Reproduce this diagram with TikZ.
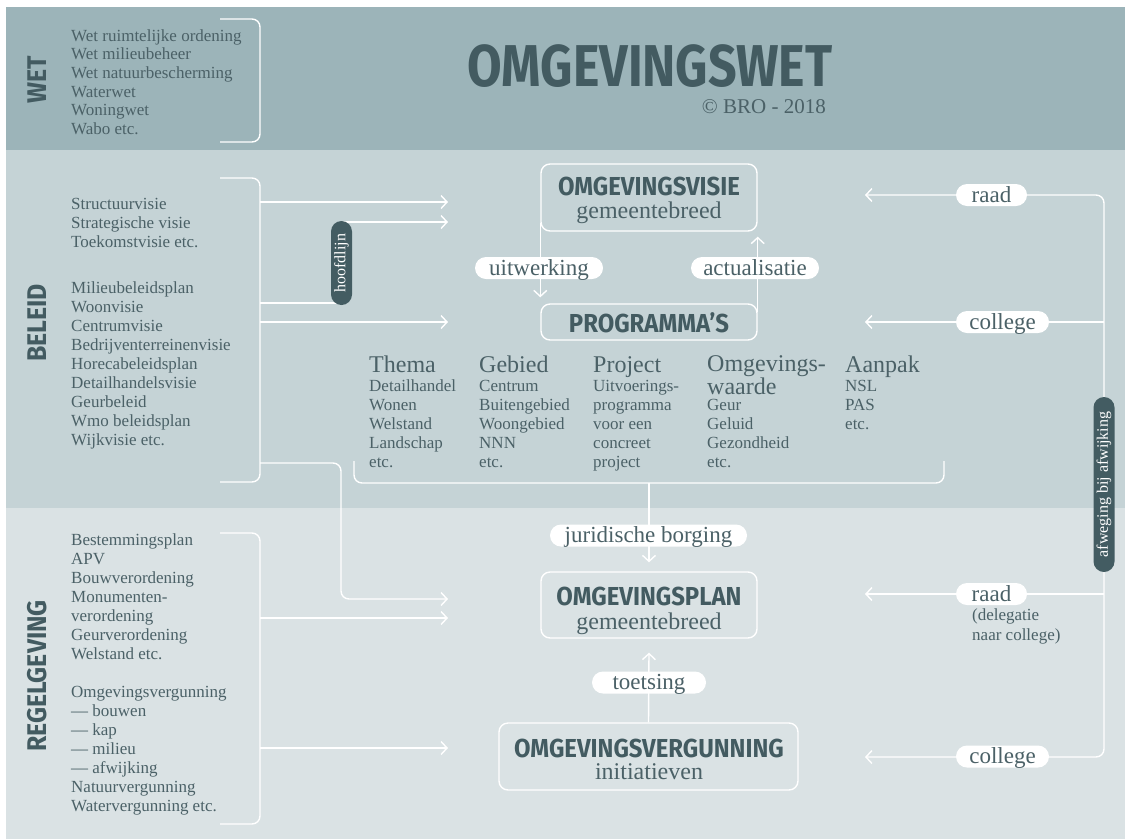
\documentclass[tikz,border=0pt]{standalone}
\usepackage{fontspec}
\setmainfont{Liberation Serif}
\newfontfamily\dinfont[FakeStretch=0.85]{Fira Sans}
\newfontfamily\dinbox[FakeStretch=0.92]{Fira Sans}
\usetikzlibrary{arrows.meta}
\definecolor{wetbg}{HTML}{9CB4B9}
\definecolor{beleidbg}{HTML}{C5D3D6}
\definecolor{regelbg}{HTML}{DAE2E4}
\definecolor{textc}{HTML}{4B6167}
\definecolor{headc}{HTML}{435B61}
\definecolor{darkc}{HTML}{435C62}
\pgfdeclarelayer{bg}
\pgfdeclarelayer{edges}
\pgfsetlayers{bg,edges,main}
\tikzset{
  conn/.style={draw=white, line width=1.4pt},
  arr/.style={conn, -{Straight Barb[length=6pt,width=13pt,line width=1.4pt]}},
  box/.style={draw=white, line width=1.4pt, rounded corners=9pt, inner sep=0pt},
  ttl/.style={font=\dinbox\bfseries\fontsize{26}{28}\selectfont, text=headc, inner sep=0pt},
  sub/.style={font=\fontsize{24}{26}\selectfont, text=textc, inner sep=0pt, anchor=base},
  lst/.style={font=\fontsize{17}{19}\selectfont, text=textc, inner sep=0pt, align=left, anchor=north west},
  pill/.style={fill=white, rounded corners=11pt, minimum height=22pt, inner xsep=0pt, inner ysep=0pt, text height=16pt, text depth=2pt, text=textc, font=\fontsize{23}{25}\selectfont},
  dpill/.style={fill=darkc, rounded corners=10.5pt, minimum height=21pt, inner xsep=0pt, inner ysep=0pt, text=white, rotate=90, font=\fontsize{16}{18}\selectfont},
  side/.style={font=\dinbox\bfseries\fontsize{27}{30}\selectfont, text=headc, rotate=90, inner sep=0pt},
  head/.style={font=\fontsize{24}{26}\selectfont, text=textc, inner sep=0pt, anchor=base west},
}
\begin{document}
\begin{tikzpicture}[x=1pt,y=-1pt]
\useasboundingbox (0,0) rectangle (1125,839);
\begin{pgfonlayer}{bg}
  \fill[wetbg] (6,7) rectangle (1125,150);
  \fill[beleidbg] (6,150) rectangle (1125,508);
  \fill[regelbg] (6,508) rectangle (1125,839);
\end{pgfonlayer}

% title
\node[font=\dinfont\bfseries\fontsize{59}{62}\selectfont, text=headc, inner sep=0pt] (title) at (650,66.5) {OMGEVINGSWET};
\node[font=\fontsize{21}{23}\selectfont, text=textc, inner sep=0pt, anchor=base east] (copy) at (826,113) {© BRO - 2018};

% side labels
\node[side] (wet) at (37,80) {WET};
\node[side] (beleid) at (37,323) {BELEID};
\node[side] (regel) at (37,676) {REGELGEVING};

% left lists
\node[lst, font=\fontsize{17}{18.6}\selectfont] (wetlist) at (71,28) {\strut Wet ruimtelijke ordening\\Wet milieubeheer\\Wet natuurbescherming\\Waterwet\\Woningwet\\Wabo etc.};
\node[lst] (bel1) at (71,195.7) {\strut Structuurvisie\\Strategische visie\\Toekomstvisie etc.};
\node[lst] (bel2) at (71,279.7) {\strut Milieubeleidsplan\\Woonvisie\\Centrumvisie\\Bedrijventerreinenvisie\\Horecabeleidsplan\\Detailhandelsvisie\\Geurbeleid\\Wmo beleidsplan\\Wijkvisie etc.};
\node[lst] (reg1) at (71,531.7) {\strut Bestemmingsplan\\APV\\Bouwverordening\\Monumenten-\\verordening\\Geurverordening\\Welstand etc.};
\node[lst] (reg2) at (71,683.7) {\strut Omgevingsvergunning\\— bouwen\\— kap\\— milieu\\— afwijking\\Natuurvergunning\\Watervergunning etc.};

% boxes
\node[box, minimum width=216pt, minimum height=67pt] (visie) at (649,197.5) {};
\node[ttl] (visieT) at (649,186.5) {OMGEVINGSVISIE};
\node[sub] (visieS) at (649,218) {gemeentebreed};
\node[box, minimum width=216pt, minimum height=36pt] (prog) at (649,322) {};
\node[ttl] (progT) at (649,323) {PROGRAMMA’S};
\node[box, minimum width=216pt, minimum height=66pt] (plan) at (649,605) {};
\node[ttl] (planT) at (649,596.5) {OMGEVINGSPLAN};
\node[sub] (planS) at (649,629) {gemeentebreed};
\node[box, minimum width=299pt, minimum height=67pt] (verg) at (648.5,756.5) {};
\node[ttl] (vergT) at (649,748) {OMGEVINGSVERGUNNING};
\node[sub] (vergS) at (649,779) {initiatieven};

% programme columns
\node[head] (h1) at (369,372) {Thema};
\node[lst] (c1) at (369,377.7) {\strut Detailhandel\\Wonen\\Welstand\\Landschap\\etc.};
\node[head] (h2) at (479,372) {Gebied};
\node[lst] (c2) at (479,377.7) {\strut Centrum\\Buitengebied\\Woongebied\\NNN\\etc.};
\node[head] (h3) at (593,372) {Project};
\node[lst] (c3) at (593,377.7) {\strut Uitvoerings-\\programma\\voor een\\concreet\\project};
\node[lst, font=\fontsize{24}{17}\selectfont] (h4) at (707,355.8) {Omgevings-\\waarde};
\node[lst] (c4) at (707,396.7) {\strut Geur\\Geluid\\Gezondheid\\etc.};
\node[head] (h5) at (845,372) {Aanpak};
\node[lst] (c5) at (845,377.7) {\strut NSL\\PAS\\etc.};

% pills
\node[pill, minimum width=128pt] (uitw) at (539,268) {uitwerking};
\node[pill, minimum width=128pt] (actu) at (755,268) {actualisatie};
\node[pill, minimum width=71pt] (raad1) at (991.5,195) {raad};
\node[pill, minimum width=93pt] (coll1) at (1002.5,322) {college};
\node[pill, minimum width=197pt] (jur) at (648.5,535.5) {juridische borging};
\node[pill, minimum width=114pt] (toets) at (649,682.5) {toetsing};
\node[pill, minimum width=71pt] (raad2) at (991.5,594) {raad};
\node[lst, font=\fontsize{17}{20}\selectfont] (deleg) at (972,606) {\strut (delegatie\\naar college)};
\node[pill, minimum width=93pt] (coll2) at (1002.5,756.5) {college};
\node[dpill, minimum width=84pt] (hoofd) at (341.5,263) {hoofdlijn};
\node[dpill, minimum width=175pt] (afw) at (1104,484.5) {afweging bij afwijking};

% coordinates
\coordinate (bb) at (260,0);
\coordinate (l1) at (448,202);
\coordinate (l2) at (448,222);
\coordinate (l3) at (448,322);
\coordinate (l4) at (448,599);
\coordinate (l5) at (448,618);
\coordinate (l6) at (448,748);
\coordinate (vx) at (1104,0);
\coordinate (t1) at (865,195);
\coordinate (t2) at (865,322);
\coordinate (t3) at (865,594);
\coordinate (t4) at (865,757);
\coordinate (pb) at (649,483);

\begin{pgfonlayer}{edges}
  % brackets
  \draw[conn, rounded corners=8pt] (220,19) -| (260,80) |- (220,142);
  \draw[conn, rounded corners=8pt] (220,178) -| (260,330) |- (220,482);
  \draw[conn, rounded corners=8pt] (220,533) -| (260,680) |- (220,824);
  \draw[conn, rounded corners=8pt] (354,461) |- (pb) -| (944,461);
  % left arrows
  \draw[arr] (l1 -| bb) -- (l1);
  \draw[arr] (l3 -| bb) -- (l3);
  \draw[arr] (l5 -| bb) -- (l5);
  \draw[arr] (l6 -| bb) -- (l6);
  \draw[conn] (260,303) -| (hoofd.center);
  \draw[arr] (hoofd.center) |- (l2);
  \draw[arr, rounded corners=8pt] (260,463) -| (341,599) -- (l4);
  % centre arrows
  \draw[arr] ([yshift=9pt]visie.south west) -- ([yshift=6pt]prog.north west);
  \draw[arr] ([yshift=-9pt]prog.north east) -- ([yshift=-5pt]visie.south east);
  \draw[arr] (pb) -- ([yshift=9pt]plan.north);
  \draw[arr] (verg.north) -- ([yshift=-14pt]plan.south);
  % right arrows
  \draw[arr, rounded corners=8pt] (afw.center) |- (t1);
  \draw[arr] (t2 -| vx) -- (t2);
  \draw[arr] (t3 -| vx) -- (t3);
  \draw[arr, rounded corners=8pt] (afw.center) |- (t4);
\end{pgfonlayer}
\end{tikzpicture}
\end{document}
